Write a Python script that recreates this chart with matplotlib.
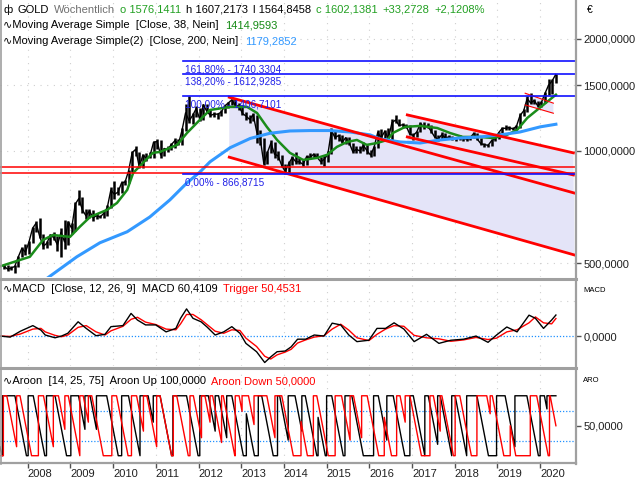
import numpy as np
import matplotlib.pyplot as plt
from matplotlib.lines import Line2D
from matplotlib.transforms import ScaledTranslation

W, H = 640, 480
plt.rcParams['font.family'] = ['Liberation Sans', 'DejaVu Sans']

# GOLD in EUR, monthly close / high / low, May 2007 .. Apr 2020
close = [490, 482, 485, 490, 520, 548, 535, 570,
         620, 640, 590, 555, 565, 595, 585, 560, 605, 570, 645, 620,
         720, 745, 695, 670, 690, 662, 670, 665, 680, 705, 785, 765,
         775, 820, 825, 885, 990, 1010, 905, 975, 955, 970, 1055, 1060,
         975, 1015, 1010, 1040, 1065, 1045, 1135, 1265, 1205, 1245, 1300, 1215,
         1330, 1275, 1245, 1255, 1255, 1270, 1320, 1345, 1370, 1325, 1320, 1260,
         1240, 1215, 1250, 1125, 1075, 925, 990, 1050, 980, 970, 915, 880,
         925, 960, 935, 935, 920, 965, 960, 980, 960, 935, 950, 980,
         1135, 1085, 1100, 1055, 1085, 1050, 995, 1010, 1000, 1035, 1000, 975,
         1025, 1120, 1085, 1130, 1080, 1190, 1210, 1170, 1175, 1165, 1110, 1100,
         1125, 1185, 1160, 1165, 1130, 1090, 1075, 1105, 1085, 1090, 1075, 1085,
         1085, 1080, 1075, 1085, 1115, 1075, 1045, 1040, 1035, 1065, 1080, 1120,
         1150, 1150, 1155, 1145, 1165, 1245, 1280, 1380, 1345, 1365, 1320, 1350,
         1425, 1500, 1540, 1602]
high = [498, 494, 492, 495, 522, 552, 562, 575,
        625, 648, 660, 600, 575, 600, 605, 590, 620, 653, 650, 640,
        730, 786, 750, 700, 700, 695, 680, 675, 690, 715, 800, 830,
        800, 830, 835, 890, 1000, 1031, 995, 980, 985, 995, 1065, 1075,
        1070, 1020, 1030, 1050, 1080, 1075, 1150, 1340, 1406, 1265, 1320, 1300,
        1335, 1340, 1290, 1270, 1265, 1290, 1330, 1350, 1380, 1387, 1345, 1330,
        1270, 1250, 1265, 1250, 1140, 1080, 1000, 1070, 1055, 1000, 975, 925,
        940, 970, 995, 955, 945, 975, 985, 990, 985, 965, 975, 1000,
        1152, 1140, 1110, 1100, 1090, 1090, 1050, 1030, 1030, 1055, 1035, 1005,
        1030, 1140, 1145, 1140, 1150, 1215, 1249, 1220, 1190, 1180, 1170, 1120,
        1130, 1195, 1195, 1185, 1170, 1140, 1100, 1125, 1115, 1100, 1095, 1090,
        1100, 1095, 1085, 1090, 1125, 1120, 1080, 1050, 1045, 1075, 1090, 1125,
        1160, 1170, 1165, 1160, 1170, 1260, 1295, 1405, 1430, 1380, 1365, 1360,
        1440, 1560, 1560, 1607]
low = [482, 476, 478, 470, 488, 518, 525, 528,
       565, 605, 585, 545, 548, 560, 578, 540, 520, 545, 560, 600,
       610, 715, 680, 655, 660, 650, 655, 660, 660, 670, 705, 745,
       760, 770, 810, 820, 880, 970, 900, 900, 940, 955, 955, 1010,
       960, 970, 995, 1005, 1020, 1040, 1040, 1130, 1190, 1180, 1230, 1200,
       1210, 1265, 1230, 1235, 1215, 1240, 1260, 1300, 1330, 1310, 1290, 1250,
       1210, 1190, 1205, 1050, 1035, 915, 920, 985, 960, 945, 905, 867,
       870, 915, 925, 925, 910, 915, 950, 955, 955, 920, 910, 935,
       980, 1075, 1060, 1050, 1045, 1040, 990, 990, 990, 1000, 980, 965,
       970, 1020, 1080, 1080, 1075, 1070, 1185, 1165, 1150, 1150, 1100, 1070,
       1090, 1125, 1145, 1150, 1120, 1085, 1065, 1075, 1080, 1075, 1070, 1060,
       1070, 1065, 1065, 1070, 1080, 1070, 1040, 1025, 1025, 1030, 1060, 1075,
       1115, 1140, 1135, 1135, 1130, 1155, 1240, 1270, 1335, 1340, 1315, 1310,
       1345, 1410, 1420, 1520]

ma38_t = [2007.35, 2008.05, 2008.36, 2008.59, 2008.99, 2009.22, 2009.46, 2009.86,
          2010.09, 2010.33, 2010.47, 2010.70, 2010.93, 2011.10, 2011.50, 2011.73,
          2012.03, 2012.27, 2012.74, 2013.14, 2013.37, 2013.60, 2013.84, 2014.14,
          2014.45, 2014.78, 2015.01, 2015.24, 2015.48, 2015.71, 2015.94, 2016.18,
          2016.42, 2016.55, 2016.84, 2017.19, 2017.59, 2017.89, 2018.19, 2018.59,
          2018.90, 2019.22, 2019.46, 2019.70, 2019.93, 2020.16, 2020.37]
ma38_v = [490, 520, 577, 595, 588, 626, 665, 695, 725, 786, 873, 929, 988, 994,
          1038, 1117, 1211, 1288, 1312, 1312, 1264, 1160, 1070, 988, 946, 958, 976,
          1025, 1057, 1070, 1038, 1050, 1070, 1117, 1160, 1167, 1152, 1117, 1090,
          1090, 1083, 1104, 1138, 1226, 1288, 1353, 1415]

ma200_t = [2008.45, 2009.15, 2009.69, 2010.33, 2010.86, 2011.33, 2011.73, 2012.03,
           2012.27, 2012.74, 2013.21, 2013.67, 2014.14, 2014.61, 2015.08, 2015.55,
           2016.02, 2016.25, 2016.72, 2017.19, 2017.66, 2018.12, 2018.59, 2019.06,
           2019.53, 2020.00, 2020.37]
ma200_v = [455, 520, 567, 607, 665, 739, 821, 877, 935, 1020, 1080, 1115, 1131,
           1134, 1134, 1124, 1104, 1077, 1057, 1050, 1070, 1083, 1090, 1104, 1124,
           1160, 1179]

fib_levels = [1740.3304, 1612.9285, 1406.7101, 866.8715]
fib_names = ['161,80%', '138,20%', '100,00%', '0,00%']
fib_start = 2011.64

# trend lines: (t0, p0, t1, p1)
long_channel = [(2012.72, 1393, 2020.80, 771),
                (2012.72, 962, 2020.80, 526)]
short_channel = [(2016.89, 1249, 2020.78, 988),
                 (2016.89, 1090, 2020.78, 862)]
small_channel = [(2019.65, 1428, 2020.31, 1343),
                 (2019.65, 1328, 2020.31, 1262)]
support_levels = [906, 873]
long_floor_2016 = 705   # lower channel line at the start of the short channel

macd_t = [2007.35, 2007.59, 2007.83, 2008.12, 2008.31, 2008.41, 2008.64, 2008.79,
          2008.94, 2009.18, 2009.37, 2009.60, 2009.81, 2009.95, 2010.23, 2010.42,
          2010.57, 2010.76, 2011.00, 2011.24, 2011.47, 2011.58, 2011.72, 2011.87,
          2012.06, 2012.20, 2012.39, 2012.59, 2012.78, 2012.97, 2013.11, 2013.36,
          2013.55, 2013.69, 2013.84, 2014.03, 2014.17, 2014.32, 2014.51, 2014.71,
          2014.94, 2015.13, 2015.33, 2015.52, 2015.71, 2015.99, 2016.18, 2016.38,
          2016.58, 2016.81, 2017.05, 2017.34, 2017.63, 2017.91, 2018.21, 2018.50,
          2018.78, 2018.98, 2019.22, 2019.46, 2019.74, 2019.89, 2020.08, 2020.27,
          2020.37]
macd_v = [0, -3, 14, 30, 17, 3, -5, 0, 8, 41, 22, 1, 5, 27, 30, 65, 46, 32, 32, 12,
          22, 51, 78, 51, 41, 26, 3, 12, 27, 8, -21, -45, -76, -60, -45, -43, -31,
          -9, -9, 3, 0, 37, 32, 3, -16, -12, 22, 22, 38, 20, -16, 5, -21, -12, -9,
          0, -18, 3, 26, 12, 60, 51, 22, 46, 60.41]
trigger_v = [0, -1, 6, 20, 22, 12, 2, -2, 3, 25, 30, 12, 3, 15, 28, 48, 54, 40, 33,
             20, 18, 35, 62, 62, 47, 33, 14, 8, 18, 16, -6, -30, -58, -66, -54, -46,
             -38, -20, -11, -3, 1, 20, 34, 17, -5, -13, 5, 20, 30, 28, 2, -5, -8, -15,
             -11, -4, -10, -6, 12, 18, 38, 55, 38, 35, 50.45]

aroon_up = [(2007.35, 15), (2007.40, 0), (2007.41, 0), (2007.41, 100), (2007.70, 100), (2007.97, 0),
            (2008.01, 0), (2008.01, 100), (2008.13, 100), (2008.40, 0),
            (2008.44, 0), (2008.44, 100), (2008.64, 100), (2008.91, 0),
            (2009.01, 0), (2009.01, 100), (2009.19, 100), (2009.34, 44),
            (2009.34, 100), (2009.46, 100), (2009.61, 44),
            (2009.61, 100), (2009.85, 100), (2010.12, 0),
            (2010.20, 0), (2010.20, 100), (2010.36, 100), (2010.63, 0),
            (2010.63, 100), (2010.82, 100), (2010.94, 56),
            (2010.94, 100), (2011.10, 100), (2011.37, 0),
            (2011.40, 0), (2011.40, 100), (2011.72, 100), (2011.99, 0),
            (2012.03, 0), (2012.03, 100), (2012.23, 100), (2012.39, 41),
            (2012.39, 100), (2012.47, 100), (2012.66, 30),
            (2012.66, 100), (2012.78, 100), (2013.05, 0),
            (2013.12, 0), (2013.12, 70), (2013.31, 0),
            (2013.40, 0), (2013.40, 100), (2013.48, 100), (2013.75, 0),
            (2013.85, 0), (2013.85, 100), (2013.90, 100), (2014.10, 26),
            (2014.10, 100), (2014.26, 100), (2014.42, 41),
            (2014.42, 100), (2014.50, 100), (2014.77, 0),
            (2014.80, 0), (2014.80, 64), (2014.97, 0),
            (2015.00, 0), (2015.00, 100), (2015.12, 100), (2015.39, 0),
            (2015.43, 0), (2015.43, 100), (2015.59, 100), (2015.86, 0),
            (2016.10, 0), (2016.10, 100), (2016.21, 100), (2016.41, 26),
            (2016.41, 100), (2016.56, 100), (2016.83, 0),
            (2016.95, 0), (2016.95, 100), (2017.03, 100), (2017.30, 0),
            (2017.30, 100), (2017.38, 100), (2017.60, 19),
            (2017.60, 100), (2017.66, 100), (2017.93, 0),
            (2017.93, 100), (2018.01, 100), (2018.28, 0),
            (2018.28, 100), (2018.52, 100), (2018.79, 0),
            (2018.98, 0), (2018.98, 100), (2019.18, 100), (2019.41, 15),
            (2019.41, 100), (2019.69, 100), (2019.96, 0),
            (2020.00, 0), (2020.00, 100), (2020.10, 100), (2020.16, 78),
            (2020.16, 100), (2020.37, 100)]
aroon_down = [(2007.35, 0), (2007.43, 0), (2007.43, 100), (2007.51, 100), (2007.74, 15),
              (2007.74, 100), (2007.82, 100), (2008.09, 0),
              (2008.25, 0), (2008.25, 100), (2008.37, 100), (2008.60, 15),
              (2008.60, 100), (2008.72, 100), (2008.87, 44),
              (2008.87, 100), (2008.95, 100), (2009.22, 0),
              (2009.22, 100), (2009.30, 100), (2009.42, 56),
              (2009.42, 100), (2009.50, 100), (2009.77, 0),
              (2009.97, 0), (2009.97, 100), (2010.08, 100), (2010.35, 0),
              (2010.43, 0), (2010.43, 100), (2010.55, 100), (2010.71, 41),
              (2010.71, 100), (2010.79, 100), (2011.02, 15),
              (2011.02, 100), (2011.10, 100), (2011.37, 0),
              (2011.41, 0), (2011.41, 100), (2011.49, 100), (2011.76, 0),
              (2011.80, 0), (2011.80, 100), (2011.88, 100), (2012.07, 30),
              (2012.07, 100), (2012.15, 100), (2012.27, 56),
              (2012.27, 100), (2012.33, 100), (2012.54, 22),
              (2012.54, 100), (2012.58, 100), (2012.85, 0),
              (2012.86, 0), (2012.86, 100), (2012.95, 100), (2013.02, 74),
              (2013.02, 100), (2013.17, 100), (2013.30, 52),
              (2013.30, 100), (2013.60, 100), (2013.79, 30),
              (2013.79, 100), (2013.95, 100), (2014.22, 0),
              (2014.40, 0), (2014.40, 57), (2014.55, 0),
              (2014.69, 0), (2014.69, 100), (2014.77, 100), (2015.04, 0),
              (2015.20, 0), (2015.20, 100), (2015.35, 100), (2015.55, 26),
              (2015.55, 100), (2015.63, 100), (2015.82, 30),
              (2015.82, 100), (2015.95, 100), (2016.22, 0),
              (2016.35, 0), (2016.35, 64), (2016.52, 0),
              (2016.64, 0), (2016.64, 100), (2016.72, 100), (2016.84, 56),
              (2016.84, 100), (2016.95, 100), (2017.22, 0),
              (2017.42, 0), (2017.42, 100), (2017.50, 100), (2017.66, 41),
              (2017.66, 100), (2017.70, 100), (2017.97, 0),
              (2018.01, 0), (2018.01, 100), (2018.12, 100), (2018.39, 0),
              (2018.52, 0), (2018.52, 100), (2018.75, 100), (2018.83, 70),
              (2018.83, 100), (2018.88, 100), (2019.15, 0),
              (2019.30, 0), (2019.30, 50), (2019.43, 0),
              (2019.77, 0), (2019.77, 100), (2019.92, 100), (2020.19, 0),
              (2020.22, 0), (2020.22, 100), (2020.235, 100), (2020.37, 50)]

years = list(range(2008, 2021))

# month positions
t = []
for i in range(len(close)):
    m = 4 + i
    t.append(2007 + (m // 12) + (m % 12 + 1) / 12 + 0.03)
t = np.array(t)

XMIN, XMAX = 2007.351, 2020.817
GRID = '#cfcfcf'
SHADE = '#e4e4f8'

fig = plt.figure(figsize=(W / 100, H / 100), dpi=100)


def panel(top, bottom):
    ax = fig.add_axes([0, 1 - bottom / H, 575 / W, (bottom - top) / H])
    ax.set_xlim(XMIN, XMAX)
    for s in ax.spines.values():
        s.set_visible(False)
    ax.yaxis.tick_right()
    ax.tick_params(axis='y', length=4, width=1, color='#505050', labelsize=8,
                   pad=2, labelcolor='#202020')
    ax.tick_params(axis='x', bottom=False, labelbottom=False)
    for y in years:
        ax.axvline(y, color=GRID, lw=0.8, ls=(0, (1, 5)), zorder=0)
    return ax


# main price panel
ax = panel(1, 277)
ax.set_yscale('log')
ax.set_ylim(459, 2524)
ax.set_yticks([500, 1000, 1500, 2000])
ax.set_yticklabels(['500,0000', '1000,0000', '1500,0000', '2000,0000'])
ax.yaxis.set_minor_locator(plt.NullLocator())
for lv in [500, 1000, 1500, 2000]:
    ax.axhline(lv, color=GRID, lw=0.8, ls=(0, (1, 5)), zorder=0)

a, b = long_channel
ax.fill([a[0], a[2], b[2], b[0]], [a[1], a[3], b[3], b[1]], color=SHADE, lw=0, zorder=1)
a = short_channel[0]
ax.fill([a[0], a[2], b[2], a[0]], [a[1], a[3], b[3], long_floor_2016],
        color=SHADE, lw=0, zorder=1)
a, b = small_channel
ax.fill([a[0], a[2], b[2], b[0]], [a[1], a[3], b[3], b[1]], color=SHADE, lw=0, zorder=1)

ax.vlines(t, low, high, color='black', lw=1.8, zorder=3)
ax.plot(t, close, color='black', lw=1.0, zorder=3)
ax.plot(ma38_t, ma38_v, color='#1a8c1a', lw=1.8, zorder=4)
ax.plot(ma200_t, ma200_v, color='#3399ff', lw=2.2, zorder=4)

for lv in support_levels:
    ax.axhline(lv, color='#ff0000', lw=1.1, zorder=5)
for x0, y0, x1, y1 in long_channel + short_channel:
    ax.plot([x0, x1], [y0, y1], color='#ff0000', lw=2.0, zorder=5)
for x0, y0, x1, y1 in small_channel:
    ax.plot([x0, x1], [y0, y1], color='#ff0000', lw=0.8, zorder=5)

off = ScaledTranslation(1 / 72, -2.5 / 72, fig.dpi_scale_trans)
for lv, nm in zip(fib_levels, fib_names):
    ax.plot([fib_start, XMAX], [lv, lv], color='#1010ff', lw=1.2, zorder=6)
    ax.text(fib_start, lv, '%s - %s' % (nm, ('%.4f' % lv).replace('.', ',')),
            transform=ax.transData + off, color='#2020e8', fontsize=7.2,
            va='top', ha='left', zorder=7)

# MACD panel
ax2 = panel(280, 366)
ax2.set_ylim(-86, 161)
ax2.set_yticks([0])
ax2.set_yticklabels(['0,0000'])
ax2.axhline(0, color='#1e90ff', lw=0.9, ls=(0, (1, 1.5)), zorder=1)
ax2.axhline(100, color=GRID, lw=0.8, ls=(0, (1, 5)), zorder=0)
ax2.plot(macd_t, trigger_v, color='#ff0000', lw=1.0, zorder=2)
ax2.plot(macd_t, macd_v, color='black', lw=1.0, zorder=3)

# Aroon panel
ax3 = panel(370, 462)
ax3.set_ylim(-10.5, 143)
ax3.set_yticks([50])
ax3.set_yticklabels(['50,0000'])
for lv in [25, 75]:
    ax3.axhline(lv, color='#1e90ff', lw=0.9, ls=(0, (1, 1.5)), zorder=1)
ut, uv = zip(*aroon_up)
dt, dv = zip(*aroon_down)
ax3.plot(ut, uv, color='black', lw=1.0, zorder=2)
ax3.plot(dt, dv, color='#ff0000', lw=1.0, zorder=3)
ax3.tick_params(axis='x', bottom=True, labelbottom=True, length=4, width=1,
                color='#505050', labelsize=8, pad=1, labelcolor='#202020')
ax3.set_xticks(years)
ax3.set_xticklabels([str(y) for y in years], ha='left')


# frame lines
def hline(y, lw, x0=0, x1=576):
    fig.add_artist(Line2D([x0 / W, x1 / W], [1 - y / H, 1 - y / H],
                          color='#a0a0a0', lw=lw))


hline(278.5, 2.2)
hline(368, 2.2)
hline(463, 1.6)
fig.add_artist(Line2D([575.5 / W, 575.5 / W], [1 - 464 / H, 1], color='#a0a0a0', lw=1.6))
fig.add_artist(Line2D([0.5 / W, 0.5 / W], [1 - 464 / H, 1], color='#a0a0a0', lw=1.2))

# legends
renderer = fig.canvas.get_renderer()


def row(x, y, parts, size=8, gap=5):
    for s, c in parts:
        tx = fig.text(x / W, 1 - y / H, s, color=c, fontsize=size, va='center', ha='left')
        x += tx.get_window_extent(renderer).width + gap


row(3, 10, [('ф', 'black'), ('GOLD', 'black'), ('Wöchentlich', '#707070'),
            ('o 1576,1411', '#22a022'), ('h 1607,2173', 'black'),
            ('l 1564,8458', 'black'), ('c 1602,1381', '#22a022'),
            ('+33,2728', '#22a022'), ('+2,1208%', '#22a022')])
row(3, 25, [('∿Moving Average Simple  [Close, 38, Nein]', 'black'),
            ('1414,9593', '#158a15')], gap=7)
row(3, 41, [('∿Moving Average Simple(2)  [Close, 200, Nein]', 'black'),
            ('1179,2852', '#3399ff')], gap=7)
row(3, 289, [('∿MACD  [Close, 12, 26, 9]  MACD 60,4109', 'black'),
             ('Trigger 50,4531', '#ff0000')])
row(3, 381, [('∿Aroon  [14, 25, 75]  Aroon Up 100,0000', 'black'),
             ('Aroon Down 50,0000', '#ff0000')])

fig.text(587 / W, 1 - 10 / H, '€', fontsize=7.5, va='center', ha='left')
fig.text(583 / W, 1 - 290 / H, 'MACD', fontsize=5.5, va='center', ha='left')
fig.text(583 / W, 1 - 381 / H, 'ARO', fontsize=5.5, va='center', ha='left')

fig.savefig('out.png', dpi=100)
